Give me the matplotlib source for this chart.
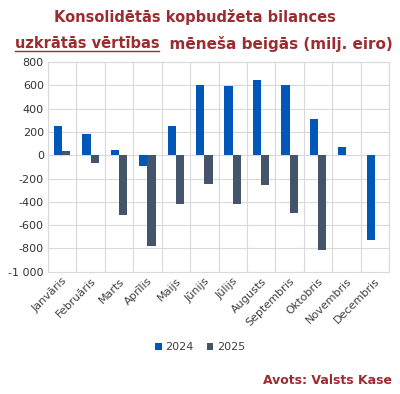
import matplotlib
matplotlib.use("Agg")
import matplotlib.pyplot as plt
import numpy as np
from matplotlib.lines import Line2D

months = ["Janvāris", "Februāris", "Marts", "Aprīlis", "Maijs", "Jūnijs",
          "Jūlijs", "Augusts", "Septembris", "Oktobris", "Novembris", "Decembris"]
v2024 = [251, 180, 43, -91, 251, 606, 591, 649, 603, 311, 69, -731]
v2025 = [34, -66, -517, -780, -420, -249, -420, -254, -497, -811, np.nan, np.nan]
yticks = [800, 600, 400, 200, 0, -200, -400, -600, -800, -1000]

red = "#9B2D30"
c2024 = "#0057B8"
c2025 = "#44546A"
grid = "#D9D9D9"

fig = plt.figure(figsize=(4, 3.94), dpi=100)
ax = fig.add_axes([0.12, 0.3104, 0.8525, 0.5322])

x = np.arange(len(months))
w = 0.29
ax.bar(x - w / 2, v2024, w, color=c2024, label="2024", zorder=3)
ax.bar(x + w / 2, v2025, w, color=c2025, label="2025", zorder=3)

ax.set_xlim(-0.5, len(months) - 0.5)
ax.set_ylim(-1000, 800)
ax.set_yticks(yticks)
ax.set_yticklabels([f"{t:,}".replace(",", " ") for t in yticks], fontsize=8, color="#333333")
ax.set_xticks(x)
ax.set_xticklabels(months, rotation=45, ha="right", rotation_mode="anchor",
                   fontsize=8, color="#404040")
ax.set_xticks(np.arange(-0.5, len(months)), minor=True)
ax.tick_params(which="both", length=0, pad=3)
ax.grid(True, axis="y", color=grid, lw=0.8, zorder=0)
ax.grid(True, axis="x", which="minor", color=grid, lw=0.8, zorder=0)
for s in ax.spines.values():
    s.set_color(grid)
    s.set_linewidth(0.8)

# title, with the underlined part drawn piece by piece
fig.text(0.4875, 1 - 17 / 394, "Konsolidētās kopbudžeta bilances", ha="center", va="center",
         fontsize=10.5, fontweight="bold", color=red)
fig.canvas.draw()
r = fig.canvas.get_renderer()
ty = 1 - 44 / 394
p1 = fig.text(0, ty, "uzkrātās vērtības", ha="left", va="center",
              fontsize=10.5, fontweight="bold", color=red)
p2 = fig.text(0, ty, "  mēneša beigās (milj. eiro)", ha="left", va="center",
              fontsize=11, fontweight="bold", color=red)
b1 = p1.get_window_extent(r)
b2 = p2.get_window_extent(r)
total = b1.width + b2.width
x0 = (0.51 * 400 - total / 2) / 400
p1.set_x(x0)
p2.set_x(x0 + b1.width / 400)
uy = (b1.y0 + 1) / 394
fig.add_artist(Line2D([x0, x0 + b1.width / 400], [uy, uy], color=red, lw=1))

ax.legend(loc="center", bbox_to_anchor=(0.5, (394 - 347) / 394), bbox_transform=fig.transFigure,
          ncol=2, frameon=False, fontsize=8, handlelength=0.6, handleheight=0.6,
          handletextpad=0.3, columnspacing=1.2, labelcolor="#404040")

fig.text(0.98, 1 - 381 / 394, "Avots: Valsts Kase", ha="right", va="center",
         fontsize=9, fontweight="bold", color=red)

fig.savefig("out.png", dpi=100)
